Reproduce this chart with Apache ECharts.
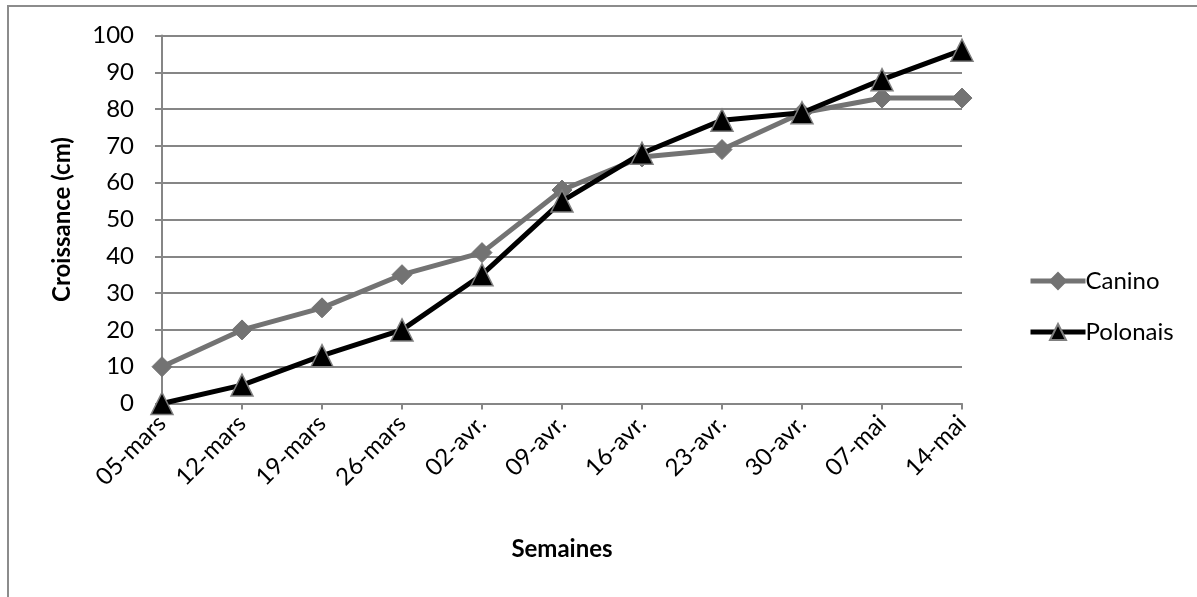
<!DOCTYPE html>
<html>
<head>
<meta charset="utf-8">
<script src="https://cdn.jsdelivr.net/npm/echarts@6/dist/echarts.min.js"></script>
<style>
html,body{margin:0;padding:0;background:#fff;}
#chart{width:1197px;height:597px;}
</style>
</head>
<body>
<div id="chart"></div>
<script>
const categories = ['05-mars','12-mars','19-mars','26-mars','02-avr.','09-avr.','16-avr.','23-avr.','30-avr.','07-mai','14-mai'];
const canino = [10, 20, 26, 35, 41, 58, 67, 69, 79, 83, 83];
const polonais = [0, 5, 13, 20, 35, 55, 68, 77, 79, 88, 96];
const yTicks = [0, 100, 10];

const FONT = 'Lato';
const chart = echarts.init(document.getElementById('chart'));
chart.setOption({
  animation: false,
  textStyle: { fontFamily: FONT },
  graphic: [{
    type: 'rect', silent: true, z: -1,
    shape: { x: 8, y: 6, width: 1400, height: 800 },
    style: { fill: 'none', stroke: '#8c8c8c', lineWidth: 2 }
  }],
  grid: { left: 162, top: 35.5, width: 800, height: 368 },
  legend: {
    orient: 'vertical', left: 1023, top: 264, itemGap: 27,
    itemWidth: 55, itemHeight: 20,
    lineStyle: { width: 5 },
    textStyle: { fontFamily: FONT, fontSize: 24, color: '#000', padding: [0,0,0,-5] },
    data: ['Canino', 'Polonais']
  },
  xAxis: {
    type: 'category', data: categories, boundaryGap: false,
    name: 'Semaines', nameLocation: 'middle', nameGap: 134,
    nameTextStyle: { fontFamily: FONT, fontSize: 24, fontWeight: 'bold', color: '#000' },
    axisLine: { lineStyle: { color: '#868686', width: 2 } },
    axisTick: { show: true, length: 6, lineStyle: { color: '#868686', width: 2 } },
    axisLabel: { rotate: 45, fontSize: 24, color: '#000', margin: 16, fontFamily: FONT },
    splitLine: { show: false }
  },
  yAxis: {
    type: 'value', min: yTicks[0], max: yTicks[1], interval: yTicks[2],
    name: 'Croissance (cm)', nameLocation: 'middle', nameGap: 88, nameRotate: 90,
    nameTextStyle: { fontFamily: FONT, fontSize: 24, fontWeight: 'bold', color: '#000' },
    axisLine: { show: true, lineStyle: { color: '#868686', width: 2 } },
    axisTick: { show: true, length: 7, lineStyle: { color: '#868686', width: 2 } },
    axisLabel: { fontSize: 24, color: '#000', margin: 28, fontFamily: FONT },
    splitLine: { lineStyle: { color: '#868686', width: 2 } }
  },
  series: [{
    name: 'Canino', type: 'line', data: canino,
    symbol: 'diamond', symbolSize: 20,
    lineStyle: { color: '#737373', width: 5 },
    itemStyle: { color: '#737373', borderColor: '#737373', borderWidth: 1 },
    z: 2
  }, {
    name: 'Polonais', type: 'line', data: polonais,
    symbol: 'triangle', symbolSize: 22,
    lineStyle: { color: '#000', width: 5 },
    itemStyle: { color: '#000', borderColor: '#7f7f7f', borderWidth: 1.5 },
    z: 3
  }]
});
</script>
</body>
</html>
